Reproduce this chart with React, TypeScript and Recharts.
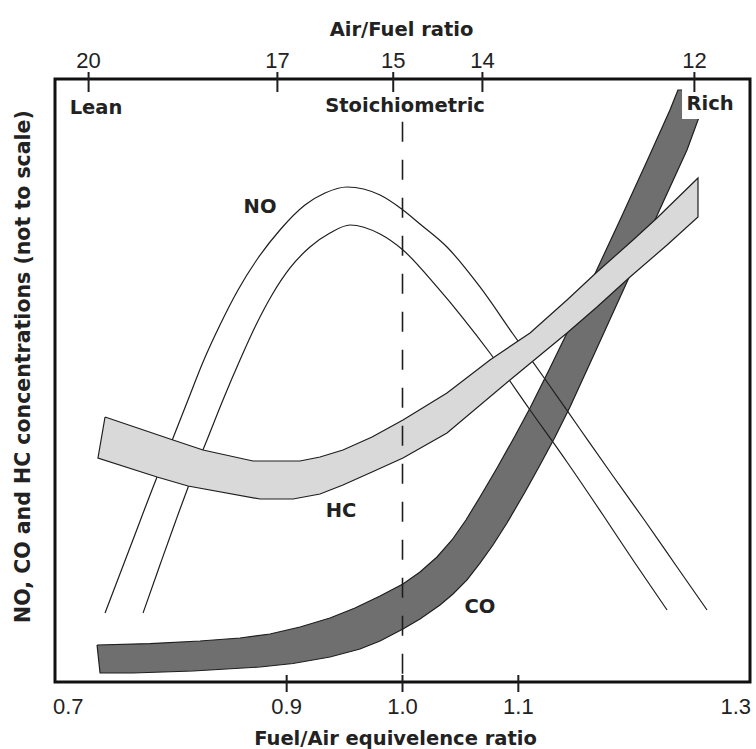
import React from 'react';
import {
  ComposedChart,
  XAxis,
  YAxis,
  Area,
  ReferenceLine,
  ReferenceArea,
  ReferenceDot,
} from 'recharts';

// ---------- data ----------
const fuelAirTicks = [0.7, 0.9, 1.0, 1.1, 1.3];
const afrTickLabels = ['20', '17', '15', '14', '12'];
const afrTickPhi = [0.729, 0.892, 0.992, 1.069, 1.252];

const stoichPhi = 1.0;
const stoichTop = 92.9;

// NO: two outline curves (no fill)
const noOuterPhi = [0.7432, 0.7656, 0.7881, 0.8019, 0.8148, 0.8278, 0.8424, 0.858, 0.8753, 0.8942, 0.9158, 0.9331, 0.9521, 0.9806, 1.0004, 1.0151, 1.0384, 1.0669, 1.0954, 1.1248, 1.1532, 1.1817, 1.2094, 1.237, 1.2629];
const noOuterConc = [11.44, 22.72, 34.0, 40.46, 46.77, 53.07, 59.2, 65.01, 70.31, 74.96, 79.1, 81.09, 82.09, 80.76, 78.28, 75.95, 72.14, 65.51, 57.71, 49.75, 41.96, 34.16, 26.7, 19.07, 11.94];
const noInnerPhi = [0.776, 0.7906, 0.8045, 0.8183, 0.8312, 0.845, 0.8597, 0.8735, 0.8873, 0.9029, 0.9201, 0.9374, 0.9547, 0.9806, 1.0004, 1.0298, 1.0522, 1.0755, 1.1101, 1.142, 1.1731, 1.2007, 1.2284];
const noInnerConc = [11.44, 19.4, 26.87, 34.0, 40.13, 46.77, 53.4, 59.2, 64.18, 68.66, 72.14, 74.46, 75.79, 74.29, 71.64, 65.51, 60.36, 54.56, 45.11, 36.48, 27.69, 19.73, 11.94];

// HC band outline (upper edge left->right, then lower edge right->left)
const hcPhi = [0.7432, 0.8019, 0.8278, 0.8709, 0.9115, 0.9288, 0.9486, 0.9737, 1.0004, 1.0384, 1.0755, 1.1101, 1.142, 1.1679, 1.199, 1.2197, 1.2551, 1.2551, 1.2284, 1.1964, 1.1679, 1.142, 1.0928, 1.0384, 1.0004, 0.9737, 0.9486, 0.9288, 0.9055, 0.877, 0.8148, 0.7881, 0.7371, 0.7432];
const hcConc = [43.95, 40.13, 38.47, 36.65, 36.65, 37.31, 38.47, 40.63, 43.45, 47.93, 53.4, 57.88, 63.35, 67.99, 73.3, 76.95, 83.58, 77.11, 72.47, 67.16, 62.19, 57.88, 50.08, 41.29, 37.15, 34.83, 32.67, 31.18, 30.35, 30.35, 32.5, 34.0, 37.15, 43.95];

// CO band outline
const coPhi = [0.7363, 0.782, 0.8252, 0.8597, 0.8856, 0.9115, 0.9374, 0.959, 0.9806, 1.0004, 1.0151, 1.0298, 1.0427, 1.0548, 1.0669, 1.0816, 1.0971, 1.1101, 1.1273, 1.142, 1.1576, 1.1705, 1.1878, 1.2111, 1.2309, 1.2378, 1.2663, 1.2551, 1.2456, 1.2223, 1.205, 1.1938, 1.1679, 1.1446, 1.1317, 1.1187, 1.1058, 1.0902, 1.0781, 1.0669, 1.0557, 1.0436, 1.0324, 1.0151, 1.0004, 0.9806, 0.9633, 0.9374, 0.9055, 0.877, 0.8191, 0.7673, 0.7389, 0.7363];
const coConc = [6.14, 6.38, 6.8, 7.3, 7.96, 9.12, 10.61, 12.27, 14.26, 16.25, 18.24, 20.73, 23.55, 26.87, 30.68, 35.49, 40.8, 45.44, 52.07, 57.88, 64.18, 69.49, 76.62, 86.4, 94.86, 98.18, 98.18, 93.2, 88.23, 78.44, 71.14, 66.33, 55.39, 45.61, 40.63, 35.99, 31.51, 26.37, 22.72, 19.73, 16.92, 14.59, 12.77, 10.45, 8.79, 6.8, 5.47, 4.15, 3.07, 2.49, 1.82, 1.49, 1.49, 6.14];

// in-plot annotations (text, phi, concentration at text baseline)
const annoText = ['Lean', 'Stoichiometric', 'Rich', 'NO', 'HC', 'CO'];
const annoPhi = [0.7354, 1.0022, 1.2655, 0.877, 0.9469, 1.0669];
const annoConc = [94.2, 94.53, 94.86, 77.8, 27.4, 11.4];

const zip = (xs: number[], ys: number[]) => xs.map((phi, i) => ({ phi, conc: ys[i] }));
const noOuter = zip(noOuterPhi, noOuterConc);
const noInner = zip(noInnerPhi, noInnerConc);
const hcBand = zip(hcPhi, hcConc);
const coBand = zip(coPhi, coConc);

// ---------- styles ----------
const BOLD = "'DejaVu Sans', 'Liberation Sans', sans-serif";
const REG = "'Liberation Sans', Arial, sans-serif";
const INK = '#1e1e1e';

const BottomTick = (props: any) => {
  const { x, y, payload, index } = props;
  const last = fuelAirTicks.length - 1;
  const anchor = index === 0 ? 'start' : index === last ? 'end' : 'middle';
  const dx = index === 0 ? -2 : index === last ? 1 : 0;
  return (
    <g>
      {index > 0 && index < last && (
        <line x1={x} x2={x} y1={y - 7} y2={y + 10} stroke={INK} strokeWidth={2} />
      )}
      <text x={x + dx} y={y + 32} textAnchor={anchor} fontFamily={REG} fontSize={22} fill="#222">
        {Number(payload.value).toFixed(1)}
      </text>
    </g>
  );
};

const TopTick = (props: any) => {
  const { x, y, payload } = props;
  const i = afrTickPhi.indexOf(payload.value);
  return (
    <g>
      <line x1={x} x2={x} y1={y - 7} y2={y + 13} stroke={INK} strokeWidth={2} />
      <text x={x} y={y - 11} textAnchor="middle" fontFamily={REG} fontSize={22} fill="#222">
        {afrTickLabels[i]}
      </text>
    </g>
  );
};

const BottomTitle = (props: any) => {
  const vb = props.viewBox;
  return (
    <text x={vb.x + vb.width / 2 - 7} y={vb.y + 63} textAnchor="middle" fontFamily={BOLD} fontWeight="bold" fontSize={19.5} fill="#222">
      Fuel/Air equivelence ratio
    </text>
  );
};

const TopTitle = (props: any) => {
  const vb = props.viewBox;
  return (
    <text x={vb.x + vb.width / 2 - 1} y={vb.y + 36} textAnchor="middle" fontFamily={BOLD} fontWeight="bold" fontSize={19.5} fill="#222">
      Air/Fuel ratio
    </text>
  );
};

const YTitle = (props: any) => {
  const vb = props.viewBox;
  const cx = vb.x + 30;
  const cy = vb.y + vb.height / 2 - 14;
  return (
    <text x={cx} y={cy} transform={`rotate(-90 ${cx} ${cy})`} textAnchor="middle" fontFamily={BOLD} fontWeight="bold" fontSize={20.5} fill="#222">
      NO, CO and HC concentrations (not to scale)
    </text>
  );
};

const makeAnno = (text: string) => (p: any) => {
  const { cx, cy } = p;
  return (
    <g>
      {text === 'Rich' && <rect x={cx - 28} y={cy - 28} width={58} height={37} fill="#fff" />}
      <text x={cx} y={cy} textAnchor="middle" fontFamily={BOLD} fontWeight="bold" fontSize={19.5} fill="#222">
        {text}
      </text>
    </g>
  );
};

export default function App() {
  return (
    <div style={{ position: 'absolute', left: 0, top: 0, width: 756, height: 749, background: '#fff' }}>
      <ComposedChart width={756} height={749} margin={{ top: 0, right: 6, bottom: 0, left: 0 }}>
        <XAxis
          type="number"
          dataKey="phi"
          domain={[0.7, 1.3]}
          ticks={fuelAirTicks}
          interval={0}
          allowDataOverflow
          axisLine={false}
          tickLine={false}
          tickSize={0}
          tickMargin={0}
          height={67}
          tick={BottomTick}
          label={BottomTitle}
        />
        <XAxis
          xAxisId="top"
          orientation="top"
          type="number"
          dataKey="phi"
          domain={[0.7, 1.3]}
          ticks={afrTickPhi}
          interval={0}
          allowDataOverflow
          axisLine={false}
          tickLine={false}
          tickSize={0}
          tickMargin={0}
          height={79}
          tick={TopTick}
          label={TopTitle}
        />
        <YAxis
          type="number"
          dataKey="conc"
          domain={[0, 100]}
          allowDataOverflow
          width={55}
          tick={false}
          axisLine={false}
          tickLine={false}
          label={YTitle}
        />

        {/* CO band (bottom layer) */}
        <Area data={coBand} dataKey="conc" type="linear" fill="#6f6f6f" fillOpacity={1} stroke={INK} strokeWidth={1.2} isAnimationActive={false} activeDot={false} dot={false} />

        {/* NO curves (outline only) */}
        <Area data={noOuter} dataKey="conc" type="monotone" fill="none" stroke={INK} strokeWidth={1.2} isAnimationActive={false} activeDot={false} dot={false} />
        <Area data={noInner} dataKey="conc" type="monotone" fill="none" stroke={INK} strokeWidth={1.2} isAnimationActive={false} activeDot={false} dot={false} />

        {/* HC band (top layer) */}
        <Area data={hcBand} dataKey="conc" type="linear" fill="#d9d9d9" fillOpacity={1} stroke={INK} strokeWidth={1.2} isAnimationActive={false} activeDot={false} dot={false} />

        <ReferenceLine
          segment={[{ x: stoichPhi, y: stoichTop }, { x: stoichPhi, y: 0 }]}
          stroke={INK}
          strokeWidth={1.6}
          strokeDasharray="20 18"
        />

        <ReferenceArea x1={0.7} x2={1.3} y1={0} y2={100} fill="none" stroke="#111" strokeWidth={3} />

        {annoText.map((t, i) => (
          <ReferenceDot key={t} x={annoPhi[i]} y={annoConc[i]} r={1} shape={makeAnno(t)} />
        ))}
      </ComposedChart>
    </div>
  );
}
